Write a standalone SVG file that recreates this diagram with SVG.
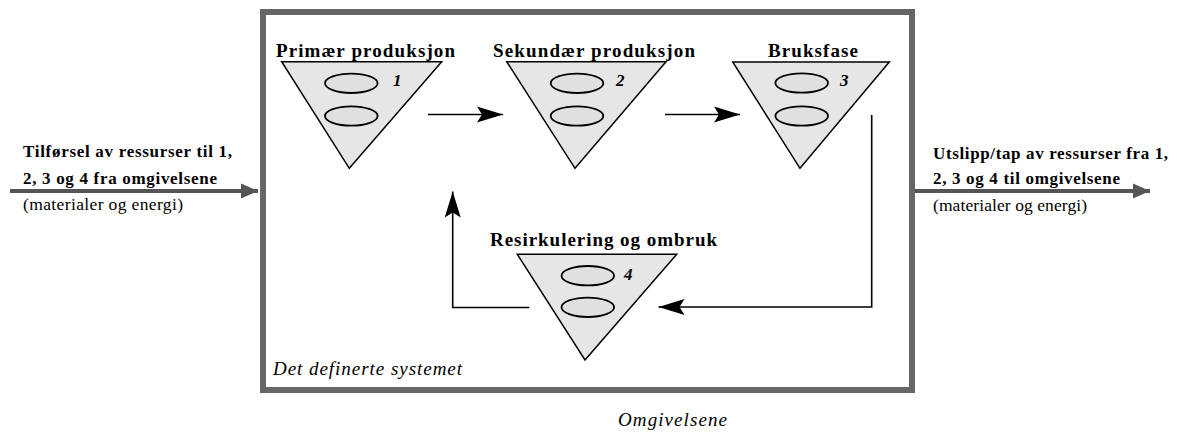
<svg xmlns="http://www.w3.org/2000/svg" width="1178" height="433" viewBox="0 0 1178 433">
<style>
.tri{fill:#e6e6e6;stroke:#000;stroke-width:1.5;stroke-linejoin:miter}
.ell{fill:#e0e0e0;stroke:#000;stroke-width:1.8}
.lbl{font-family:"Liberation Serif","Times New Roman",serif;font-weight:bold;font-size:19px;fill:#000}
.num{font-family:"Liberation Serif","Times New Roman",serif;font-weight:bold;font-style:italic;font-size:17px;fill:#000}
.side{font-family:"Liberation Serif","Times New Roman",serif;font-weight:bold;font-size:17px;fill:#000}
.sub{font-family:"Liberation Serif","Times New Roman",serif;font-size:17.5px;fill:#000}
.ital{font-family:"Liberation Serif","Times New Roman",serif;font-style:italic;font-size:19px;fill:#000}
.flow{fill:none;stroke:#000;stroke-width:1.6}
.thick{fill:none;stroke:#555;stroke-width:4}
</style>
<defs>
<marker id="ah" markerUnits="userSpaceOnUse" viewBox="0 -9 28 18" markerWidth="28" markerHeight="18" refX="26" refY="0" orient="auto">
<path d="M0,-8 L26,0 L0,8 L5,0 Z" fill="#000"/>
</marker>
<marker id="ahg" markerUnits="userSpaceOnUse" viewBox="0 -9 18 18" markerWidth="18" markerHeight="18" refX="17" refY="0" orient="auto">
<path d="M0,-7.5 L17,0 L0,7.5 Z" fill="#555"/>
</marker>
</defs>
<rect id="system" x="263" y="12" width="649" height="378" fill="#fff" stroke="#666" stroke-width="6"/>
<g id="connectors">
<line class="thick" x1="10" y1="191" x2="258" y2="191" marker-end="url(#ahg)"/>
<line class="thick" x1="915" y1="191" x2="1150" y2="191" marker-end="url(#ahg)"/>
<line class="flow" x1="428" y1="114.5" x2="503" y2="114.5" marker-end="url(#ah)"/>
<line class="flow" x1="665" y1="114.5" x2="740" y2="114.5" marker-end="url(#ah)"/>
<polyline class="flow" points="871.7,115 871.7,307 658.5,307" marker-end="url(#ah)"/>
<polyline class="flow" points="529.3,307.5 452.7,307.5 452.7,191.5" marker-end="url(#ah)"/>
</g>
<g id="node1">
<text class="lbl" x="276" y="57" textLength="179" lengthAdjust="spacing">Primær produksjon</text>
<polygon class="tri" points="281.7,61.7 441.7,61.7 349.3,168.3"/>
<ellipse class="ell" cx="351.3" cy="83.3" rx="26.3" ry="9.7"/>
<ellipse class="ell" cx="351.3" cy="116" rx="26.3" ry="9.7"/>
<text class="num" x="393" y="86">1</text>
</g>
<g id="node2">
<text class="lbl" x="493" y="57" textLength="202" lengthAdjust="spacing">Sekundær produksjon</text>
<polygon class="tri" points="506.7,61.7 666,61.7 575,168.3"/>
<ellipse class="ell" cx="577" cy="83.3" rx="26.3" ry="9.7"/>
<ellipse class="ell" cx="577" cy="116" rx="26.3" ry="9.7"/>
<text class="num" x="616" y="86">2</text>
</g>
<g id="node3">
<text class="lbl" x="768" y="57" textLength="90" lengthAdjust="spacing">Bruksfase</text>
<polygon class="tri" points="732.7,62 889.3,62 800,168.3"/>
<ellipse class="ell" cx="801.7" cy="83" rx="26.3" ry="9.7"/>
<ellipse class="ell" cx="801.7" cy="116" rx="26.3" ry="9.7"/>
<text class="num" x="840" y="86">3</text>
</g>
<g id="node4">
<text class="lbl" x="490" y="245.7" textLength="227" lengthAdjust="spacing">Resirkulering og ombruk</text>
<polygon class="tri" points="517.3,254.3 676.7,254.3 585,360"/>
<ellipse class="ell" cx="587.8" cy="275.7" rx="26.3" ry="9.7"/>
<ellipse class="ell" cx="587.8" cy="307.3" rx="26.3" ry="9.7"/>
<text class="num" x="624" y="280">4</text>
</g>
<g id="input">
<text class="side" x="23" y="157" textLength="209" lengthAdjust="spacing">Tilførsel av ressurser til 1,</text>
<text class="side" x="23" y="184" textLength="194" lengthAdjust="spacing">2, 3 og 4 fra omgivelsene</text>
<text class="sub" x="23" y="210" textLength="160" lengthAdjust="spacing">(materialer og energi)</text>
</g>
<g id="output">
<text class="side" x="933" y="159" textLength="235" lengthAdjust="spacing">Utslipp/tap av ressurser fra 1,</text>
<text class="side" x="933" y="184" textLength="187" lengthAdjust="spacing">2, 3 og 4 til omgivelsene</text>
<text class="sub" x="933" y="211" textLength="154" lengthAdjust="spacing">(materialer og energi)</text>
</g>
<text class="ital" x="273" y="375" textLength="189" lengthAdjust="spacing">Det definerte systemet</text>
<text class="ital" x="618" y="426" textLength="109" lengthAdjust="spacing">Omgivelsene</text>
</svg>
